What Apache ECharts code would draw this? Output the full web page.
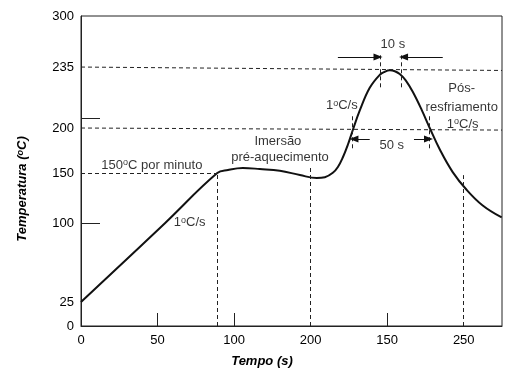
<!DOCTYPE html>
<html><head><meta charset="utf-8">
<script src="https://cdn.jsdelivr.net/npm/echarts@6/dist/echarts.min.js"></script>
<style>html,body{margin:0;padding:0;background:#fff}#c{width:520px;height:377px}</style>
</head><body><div id="c"></div>
<script>
// Reflow profile (time in s, temperature in the figure's labelled scale)
const times = [0, 55, 89, 96, 105.7, 116.8, 129.9, 143, 154, 159.3, 164.5, 167.8, 171, 174.3, 177.5, 182.1, 188.6, 195.2, 198.4, 201.7, 205, 208.2, 212.1, 216.7, 222.6, 227.8, 234.3, 242.8, 252, 262.4, 274.8];
const temps = [25, 100, 150, 153.4, 155.6, 154.5, 152.6, 148, 145, 145.8, 150.3, 156.8, 167.3, 181.4, 197.5, 210.1, 223.1, 230.6, 232.3, 233.1, 232.6, 231, 227.4, 220.8, 210.3, 200, 176.4, 151.1, 133, 117.5, 105.5];

// Y axis of the figure is not linear: labelled temperatures and where they sit on the axis
const yTickTemps = [0, 25, 100, 150, 200, 235, 300];
const yTickLabels = ['0', '25', '100', '150', '200', '235', '300'];
const yTickPos = [0, 23.2, 99.7, 148, 191.6, 250.6, 300];
const yMinorTicks = [99.7, 201.3];

// X axis labels as printed in the figure
const xTickValues = [0, 50, 100, 150, 200, 250];
const xTickLabels = ['0', '50', '100', '200', '150', '250'];
const xMinorTicks = [50, 100, 200];

// Markers (seconds)
const soakEnd = 89, zoneB = 150, zoneC = 250;
const peakWin = [195.2, 209.5];
const above200 = [177.5, 227.8];

function ax(T) {
  for (let i = 0; i < yTickTemps.length - 1; i++) {
    const t0 = yTickTemps[i], t1 = yTickTemps[i + 1];
    if (T <= t1 || i === yTickTemps.length - 2) {
      return yTickPos[i] + (T - t0) * (yTickPos[i + 1] - yTickPos[i]) / (t1 - t0);
    }
  }
}

const FONT = '"Liberation Sans", Arial, Helvetica, sans-serif';
const INK = '#000';
const deg = { fontSize: 9, verticalAlign: 'top', lineHeight: 9, color: INK, fontFamily: FONT };

const dash = { type: [4, 3], color: '#222', width: 1 };
function seg(x1, y1, x2, y2) { return [{ coord: [x1, y1] }, { coord: [x2, y2] }]; }
function arrow(x1, y1, x2, y2) {
  return [{ coord: [x1, y1], symbol: 'none' }, { coord: [x2, y2], symbol: 'triangle', symbolSize: [7, 9], symbolRotate: x2 > x1 ? -90 : 90 }];
}

const texts = [
  { v: [46.3, 155.8], t: '150{o|o}C por minuto' },
  { v: [71, 100.6], t: '1{o|o}C/s' },
  { v: [128.6, 179], t: 'Imersão' },
  { v: [130, 163.5], t: 'pré-aquecimento' },
  { v: [170.4, 213], t: '1{o|o}C/s' },
  { v: [203.7, 272.9], t: '10 s' },
  { v: [203, 175.2], t: '50 s' },
  { v: [248.7, 230.3], t: 'Pós-' },
  { v: [248.7, 212], t: 'resfriamento' },
  { v: [249.3, 195.5], t: '1{o|o}C/s' }
];

const chart = echarts.init(document.getElementById('c'), null, { renderer: 'canvas' });
chart.setOption({
  animation: false,
  backgroundColor: '#fff',
  textStyle: { fontFamily: FONT },
  grid: { left: 81, right: 18, top: 16, bottom: 51, show: true, borderColor: '#222', borderWidth: 1, backgroundColor: 'transparent' },
  xAxis: {
    type: 'value', min: 0, max: 275, interval: 50,
    axisLine: { show: true, lineStyle: { color: '#222', width: 1 } },
    splitLine: { show: false },
    axisTick: { show: true, inside: true, length: 13, customValues: xMinorTicks, lineStyle: { color: '#222' } },
    axisLabel: {
      customValues: xTickValues, margin: 8, color: INK, fontSize: 13, fontFamily: FONT,
      formatter: v => { const i = xTickValues.indexOf(v); return i >= 0 ? xTickLabels[i] : ''; }
    },
    name: 'Tempo (s)', nameLocation: 'middle', nameGap: 29,
    nameTextStyle: { fontSize: 13, fontWeight: 'bold', fontStyle: 'italic', color: INK, fontFamily: FONT, padding: [0, 59, 0, 0] }
  },
  yAxis: {
    type: 'value', min: 0, max: 300,
    axisLine: { show: true, lineStyle: { color: '#222', width: 1 } },
    splitLine: { show: false },
    axisTick: { show: true, inside: true, length: 19, customValues: yMinorTicks, lineStyle: { color: '#222' } },
    axisLabel: {
      customValues: yTickPos, margin: 7, color: INK, fontSize: 13, fontFamily: FONT,
      formatter: v => { for (let i = 0; i < yTickPos.length; i++) if (Math.abs(yTickPos[i] - v) < 0.01) return yTickLabels[i]; return ''; }
    },
    name: 'Temperatura ({o|o}C)', nameLocation: 'middle', nameGap: 52,
    nameTextStyle: { fontSize: 13, fontWeight: 'bold', fontStyle: 'italic', color: INK, fontFamily: FONT, padding: [0, 36, 0, 0],
      rich: { o: { fontSize: 9, verticalAlign: 'top', lineHeight: 9, fontWeight: 'bold', fontStyle: 'italic', color: INK, fontFamily: FONT } } }
  },
  series: [
    {
      type: 'line', smooth: 0.4, showSymbol: false, silent: true,
      data: times.map((t, i) => [t, ax(temps[i])]),
      lineStyle: { color: '#111', width: 2 },
      markLine: {
        silent: true, symbol: 'none', label: { show: false }, lineStyle: dash, animation: false,
        data: [
          seg(0, ax(235), 275, ax(235) - 3.3),
          seg(0, ax(200), 275, ax(200) - 2),
          seg(0, ax(150), soakEnd, ax(150)),
          seg(soakEnd, 0, soakEnd, 147),
          seg(zoneB, 0, zoneB, 154),
          seg(zoneC, 0, zoneC, 146),
          seg(peakWin[0], 231, peakWin[0], 263),
          seg(peakWin[1], 231, peakWin[1], 263),
          seg(above200[0], 172, above200[0], 204),
          seg(above200[1], 172, above200[1], 204)
        ]
      }
    },
    {
      type: 'line', data: [], silent: true,
      markLine: {
        silent: true, label: { show: false }, animation: false,
        lineStyle: { type: 'solid', color: '#111', width: 1 },
        data: [
          arrow(167.8, 260.3, peakWin[0] - 1.2, 260.3),
          arrow(236.3, 260.3, peakWin[1] + 1.2, 260.3),
          arrow(188.6, 181, above200[0] + 0.8, 181),
          arrow(217.5, 181, above200[1] - 0.8, 181)
        ]
      }
    },
    {
      type: 'scatter', symbolSize: 0, silent: true,
      data: texts.map(d => ({ value: d.v, label: { formatter: d.t } })),
      label: { show: true, position: 'inside', color: INK, fontSize: 13, fontFamily: FONT, rich: { o: deg } }
    }
  ]
});
</script></body></html>
